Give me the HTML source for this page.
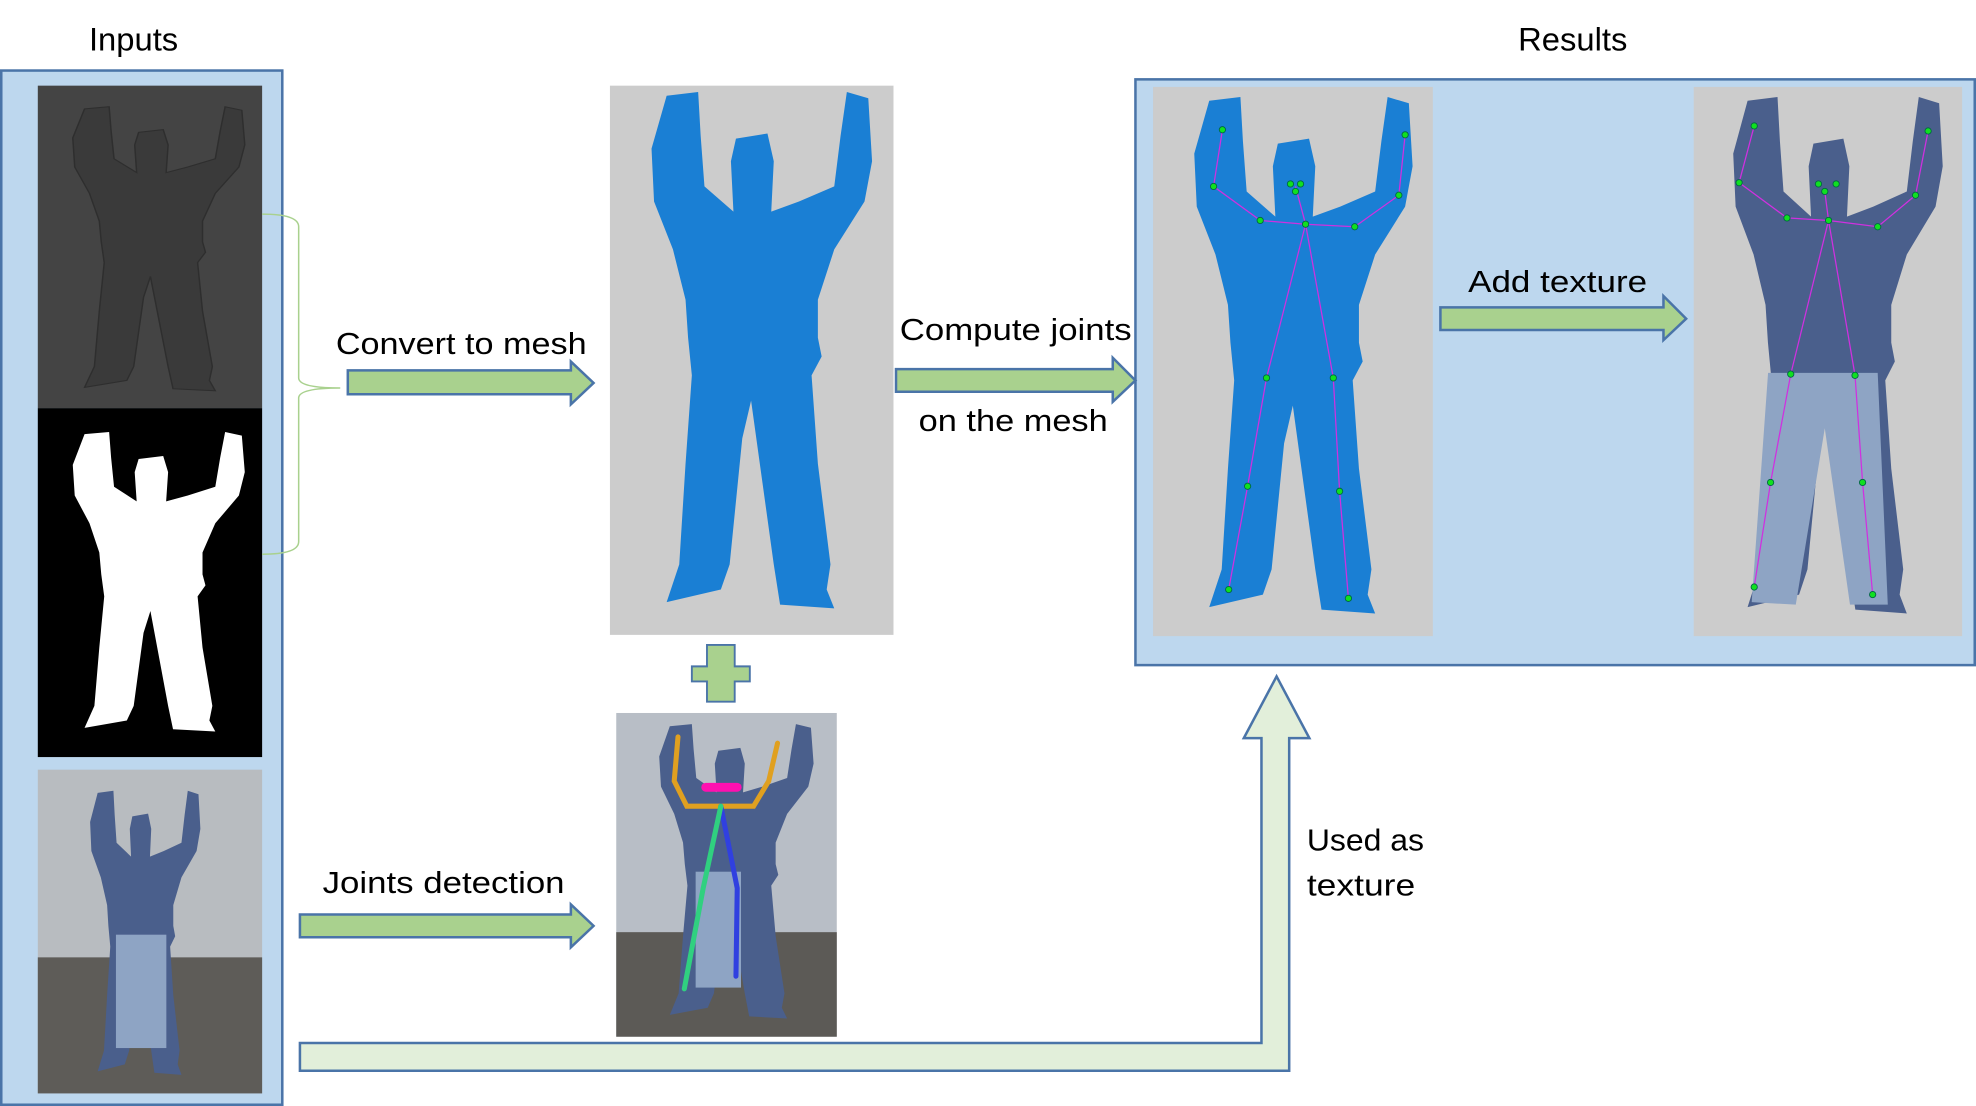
<!DOCTYPE html>
<html><head><meta charset="utf-8"><style>html,body{margin:0;padding:0;background:#fff}svg{display:block}</style></head>
<body>
<svg width="1976" height="1106" viewBox="0 0 1568 878" preserveAspectRatio="none" xmlns="http://www.w3.org/2000/svg" font-family="Liberation Sans, sans-serif">
<defs>
<path id="fig" d="M45 8 L70 5 L72 40 L75 80 L98 100 L96 60 L100 42 L125 38 L130 60 L128 100 L150 92 L178 80 L183 40 L188 5 L205 10 L208 60 L202 92 L178 130 L165 170 L165 200 L168 215 L160 230 L165 300 L175 380 L172 400 L178 415 L135 412 L130 380 L112 250 L105 280 L95 380 L88 400 L45 410 L55 380 L60 300 L65 230 L62 200 L60 170 L50 130 L35 92 L33 50 Z"/>
</defs>
<!-- titles -->
<text x="106" y="40" font-size="26" text-anchor="middle">Inputs</text>
<text x="1248" y="40" font-size="26" text-anchor="middle">Results</text>
<!-- inputs panel -->
<rect x="1" y="56" width="223" height="821" fill="#bdd7ee" stroke="#4a74a8" stroke-width="2"/>
<rect x="30" y="68" width="178" height="256" fill="#444"/>
<use href="#fig" transform="translate(32,82) scale(0.78,0.55)" fill="#3a3a3a" stroke="#2e2e2e" stroke-width="1.5"/>
<rect x="30" y="324" width="178" height="277" fill="#000"/>
<use href="#fig" transform="translate(32,340) scale(0.78,0.58)" fill="#fff"/>
<rect x="30" y="611" width="178" height="257" fill="#b8bcc0"/>
<rect x="30" y="760" width="178" height="108" fill="#5e5c58"/>
<use href="#fig" transform="translate(55,625) scale(0.5,0.55)" fill="#4a5f8c"/>
<rect x="92" y="742" width="40" height="90" fill="#8ea4c4"/>
<!-- brace -->
<path d="M208 170 Q237 170 237 180 L237 300 Q237 308 270 308 Q237 308 237 316 L237 430 Q237 440 208 440" fill="none" stroke="#a9d18e" stroke-width="1.2"/>
<!-- mesh image -->
<rect x="484" y="68" width="225" height="436" fill="#cccccc"/>
<use href="#fig" transform="translate(484,68)" fill="#1a7fd4"/>
<!-- joints detection image -->
<rect x="489" y="566" width="175" height="257" fill="#b8bec6"/>
<rect x="489" y="740" width="175" height="83" fill="#5c5a56"/>
<use href="#fig" transform="translate(500,572) scale(0.7,0.57)" fill="#4a5f8c"/>
<rect x="552" y="692" width="36" height="92" fill="#8ea4c4"/>
<g fill="none" stroke-width="4" stroke-linecap="round">
<path d="M538 585 L535 620 L545 640 L572 640 L598 640 L610 620 L617 590" stroke="#e0a020"/>
<path d="M572 640 L585 705 L584 775" stroke="#3040e0"/>
<path d="M572 640 L558 705 L543 785" stroke="#30d080"/>
<path d="M560 625 L585 625" stroke="#ff10b0" stroke-width="7"/>
</g>
<!-- results panel -->
<rect x="901" y="63" width="666" height="465" fill="#bdd7ee" stroke="#4a74a8" stroke-width="2"/>
<rect x="915" y="69" width="222" height="436" fill="#cccccc"/>
<use href="#fig" transform="translate(915,72) scale(0.99,1.0)" fill="#1a7fd4"/>
<rect x="1344" y="69" width="213" height="436" fill="#cccccc"/>
<use href="#fig" transform="translate(1344,72) scale(0.95,1.0)" fill="#4a5f8c"/>
<path d="M1403 296 L1490 296 L1498 480 L1468 480 L1448 340 L1425 480 L1390 478 Z" fill="#8ea4c4"/>
<g fill="none" stroke="#d030e0" stroke-width="1">
<path d="M970 103 L963 148 L1000 175 L1036 178 L1075 180 L1110 155 L1115 107 M1036 178 L1005 300 L990 386 L975 468 M1036 178 L1058 300 L1063 390 L1070 475 M1028 148 L1036 178"/>
<path d="M1392 100 L1380 145 L1418 173 L1451 175 L1490 180 L1520 155 L1530 104 M1451 175 L1421 297 L1405 383 L1392 466 M1451 175 L1472 298 L1478 383 L1486 472 M1448 152 L1451 175"/>
</g>
<g fill="#10e020" stroke="#064" stroke-width="0.7">
<circle cx="970" cy="103" r="2.5"/><circle cx="963" cy="148" r="2.5"/><circle cx="1000" cy="175" r="2.5"/><circle cx="1036" cy="178" r="2.5"/><circle cx="1075" cy="180" r="2.5"/><circle cx="1110" cy="155" r="2.5"/><circle cx="1115" cy="107" r="2.5"/><circle cx="1005" cy="300" r="2.5"/><circle cx="1058" cy="300" r="2.5"/><circle cx="990" cy="386" r="2.5"/><circle cx="1063" cy="390" r="2.5"/><circle cx="975" cy="468" r="2.5"/><circle cx="1070" cy="475" r="2.5"/><circle cx="1024" cy="146" r="2.5"/><circle cx="1032" cy="146" r="2.5"/><circle cx="1028" cy="152" r="2.5"/>
<circle cx="1392" cy="100" r="2.5"/><circle cx="1380" cy="145" r="2.5"/><circle cx="1418" cy="173" r="2.5"/><circle cx="1451" cy="175" r="2.5"/><circle cx="1490" cy="180" r="2.5"/><circle cx="1520" cy="155" r="2.5"/><circle cx="1530" cy="104" r="2.5"/><circle cx="1421" cy="297" r="2.5"/><circle cx="1472" cy="298" r="2.5"/><circle cx="1405" cy="383" r="2.5"/><circle cx="1478" cy="383" r="2.5"/><circle cx="1392" cy="466" r="2.5"/><circle cx="1486" cy="472" r="2.5"/><circle cx="1443" cy="146" r="2.5"/><circle cx="1457" cy="146" r="2.5"/><circle cx="1448" cy="152" r="2.5"/>
</g>
<!-- arrows -->
<g fill="#a9d18e" stroke="#4a74a8" stroke-width="2">
<path d="M276 294 L453 294 L453 287 L471 304 L453 321 L453 313 L276 313 Z"/>
<path d="M711 293 L883 293 L883 284 L901 302 L883 319 L883 311 L711 311 Z"/>
<path d="M1143 244 L1320 244 L1320 235 L1338 253 L1320 270 L1320 262 L1143 262 Z"/>
<path d="M238 726 L453 726 L453 718 L471 735 L453 752 L453 744 L238 744 Z"/>
<path d="M561 512 L583 512 L583 529 L595 529 L595 541 L583 541 L583 557 L561 557 L561 541 L549 541 L549 529 L561 529 Z" stroke-width="1.5"/>
</g>
<path d="M238 828 L1001 828 L1001 586 L987 586 L1013 537 L1039 586 L1023 586 L1023 850 L238 850 Z" fill="#e2efda" stroke="#4a74a8" stroke-width="2"/>
<!-- texts -->
<text x="366" y="281" font-size="24" text-anchor="middle" textLength="199" lengthAdjust="spacingAndGlyphs">Convert to mesh</text>
<text x="806" y="270" font-size="24" text-anchor="middle" textLength="184" lengthAdjust="spacingAndGlyphs">Compute joints</text>
<text x="804" y="342" font-size="24" text-anchor="middle" textLength="150" lengthAdjust="spacingAndGlyphs">on the mesh</text>
<text x="352" y="709" font-size="24" text-anchor="middle" textLength="192" lengthAdjust="spacingAndGlyphs">Joints detection</text>
<text x="1037" y="675" font-size="24" textLength="93" lengthAdjust="spacingAndGlyphs">Used as</text>
<text x="1037" y="711" font-size="24" textLength="86" lengthAdjust="spacingAndGlyphs">texture</text>
<text x="1236" y="232" font-size="24" text-anchor="middle" textLength="142" lengthAdjust="spacingAndGlyphs">Add texture</text>
</svg>
</body></html>
